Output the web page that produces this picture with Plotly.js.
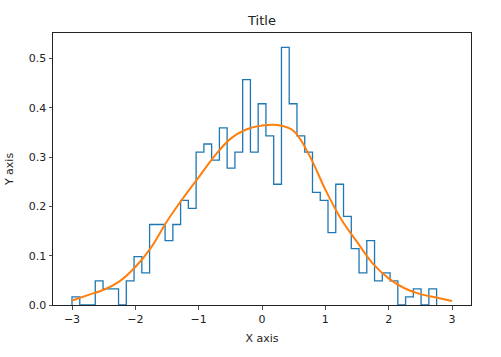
<!DOCTYPE html>
<html>
<head>
<meta charset="utf-8">
<script src="https://cdn.plot.ly/plotly-3.0.1.min.js"></script>
<style>html,body{margin:0;padding:0;background:#fff;}#chart{width:501px;height:357px;}</style>
</head>
<body>
<div id="chart"></div>
<script>
// Histogram (density, step outline): first edge, last edge, per-bin density
const histStart = -3.0;
const histEnd = 2.757;
const binDensity = [
  0.0163, 0, 0, 0.0490, 0.0327, 0.0327, 0, 0.0490, 0.0980, 0.0653,
  0.1633, 0.1633, 0.1306, 0.1633, 0.2123, 0.1959, 0.3102, 0.3266, 0.2939, 0.3592,
  0.2776, 0.3102, 0.4572, 0.3102, 0.4082, 0.3429, 0.2449, 0.5225, 0.4082, 0.3429,
  0.3102, 0.2286, 0.2123, 0.1470, 0.2449, 0.1796, 0.1143, 0.0653, 0.1306, 0.0490,
  0.0653, 0.0490, 0, 0.0163, 0.0327, 0, 0.0327
];
// KDE curve
const kdeX = [-3.0, -2.75, -2.5, -2.25, -2.0, -1.75, -1.5, -1.25, -1.0, -0.75, -0.5, -0.25,
              0.0, 0.25, 0.5, 0.75, 1.0, 1.25, 1.5, 1.75, 2.0, 2.25, 2.5, 2.75, 3.0];
const kdeY = [0.009, 0.020, 0.031, 0.048, 0.077, 0.117, 0.170, 0.216, 0.259, 0.302, 0.337, 0.356,
              0.364, 0.365, 0.353, 0.303, 0.234, 0.174, 0.128, 0.084, 0.054, 0.034, 0.022, 0.015, 0.008];
const xTicks = [-3, -2, -1, 0, 1, 2, 3];
const yTicks = [0, 0.1, 0.2, 0.3, 0.4, 0.5];

const nBins = binDensity.length;
const binW = (histEnd - histStart) / nBins;
const edges = [];
for (let i = 0; i <= nBins; i++) edges.push(histStart + i * binW);
const stepX = [edges[0]].concat(edges.slice(0, nBins), [edges[nBins], edges[nBins]]);
const stepY = [0].concat(binDensity, [binDensity[nBins - 1], 0]);

const font = {family: 'DejaVu Sans, sans-serif', size: 11, color: '#222'};
const traces = [
  {x: stepX, y: stepY, type: 'scatter', mode: 'lines',
   line: {shape: 'hv', color: '#1f77b4', width: 1.3}, hoverinfo: 'skip'},
  {x: kdeX, y: kdeY, type: 'scatter', mode: 'lines',
   line: {shape: 'spline', smoothing: 1, color: '#ff7f0e', width: 2}, hoverinfo: 'skip'}
];
const axisCommon = {
  showgrid: false, zeroline: false, showline: true, mirror: true,
  linecolor: '#222', linewidth: 1, ticks: 'outside', ticklen: 3.5, tickwidth: 0.8,
  tickcolor: '#222', tickfont: font
};
const layout = {
  width: 501, height: 357,
  margin: {l: 53, r: 30, t: 33, b: 52},
  paper_bgcolor: '#fff', plot_bgcolor: '#fff',
  showlegend: false,
  font: font,
  title: {text: 'Title', font: {family: 'DejaVu Sans, sans-serif', size: 13, color: '#222'},
          x: 0.5, xref: 'paper', y: 1 - 20 / 357, yref: 'container', yanchor: 'middle'},
  xaxis: Object.assign({}, axisCommon, {
    range: [-3.3, 3.3], tickmode: 'array', tickvals: xTicks,
    title: {text: 'X axis', font: font, standoff: 9}
  }),
  yaxis: Object.assign({}, axisCommon, {
    range: [0, 0.5517], tickmode: 'array', tickvals: yTicks, tickformat: '.1f',
    title: {text: 'Y axis', font: font, standoff: 12}
  })
};
Plotly.newPlot('chart', traces, layout, {staticPlot: true, displayModeBar: false});
</script>
</body>
</html>
